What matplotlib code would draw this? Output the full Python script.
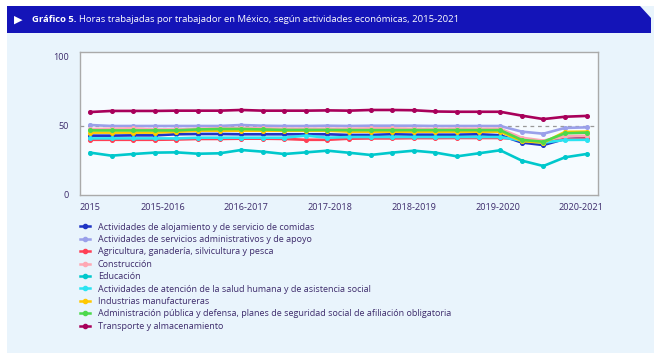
import matplotlib
matplotlib.use("Agg")
import matplotlib.pyplot as plt
from matplotlib.patches import Polygon, Rectangle

plt.rcParams['font.family'] = ['Open Sans', 'DejaVu Sans']

tick_labels = ['2015', '2015-2016', '2016-2017', '2017-2018', '2018-2019', '2019-2020', '2020-2021']
tick_pos = [0, 3.36, 7.24, 11.11, 15.0, 18.88, 22.76]

alojamiento = [43, 43, 43.2, 43.2, 44, 44.2, 44.2, 44, 44, 44, 44, 44,
               43.5, 43.5, 44, 43.7, 43.7, 43.7, 44, 43.3, 38, 36.2, 40.6, 41.5]
servicios = [50.7, 50, 50, 50, 50, 50, 50, 50.7, 50.2, 50, 50, 50.2,
             50, 50.2, 50.2, 50.2, 50, 50, 50, 50, 45.9, 44.4, 48.6, 49]
agricultura = [40, 40, 40, 40, 40.2, 40.6, 40.6, 40.8, 40.8, 40.6, 40, 40,
               40.8, 41, 41, 41.2, 41.2, 41.3, 41.3, 41.3, 40.5, 38.6, 40.4, 41]
construccion = [47.8, 48, 48.3, 47.5, 47.5, 48, 48.3, 48.5, 48.3, 48, 48, 48,
                48, 48.3, 48.3, 48, 47.8, 48, 48, 48, 41.5, 39.4, 42.5, 43]
educacion = [30.7, 28.5, 29.7, 30.7, 30.9, 29.9, 30.2, 32.6, 31.4, 29.7, 30.9, 32.1,
             30.6, 29, 30.7, 32.1, 30.7, 28, 30.2, 32.4, 24.9, 21, 27.3, 29.7]
salud = [41, 41, 41, 41, 41, 41.5, 41.5, 41.5, 41.5, 41.5, 43, 41.5,
         42, 42, 42, 42, 42, 42, 42, 42, 39.4, 37.9, 39.9, 40]
manufactura = [45.2, 45.2, 45.2, 45.2, 45.8, 46.6, 46.6, 46.6, 46.6, 46.6, 46.6, 46.6,
               45.9, 45.9, 45.9, 45.9, 45.9, 45.9, 45.9, 45.9, 39.1, 37.9, 45.7, 45.9]
administracion = [46.8, 46.8, 46.8, 46.8, 46.8, 47.5, 47.8, 47.8, 47.5, 47.1, 47.1, 47.1,
                  47, 47, 47, 47, 47, 47, 47, 47, 39.9, 38.6, 44.7, 45.2]
transporte = [60.1, 60.9, 60.9, 60.9, 61.1, 61.1, 61.1, 61.6, 61.1, 61.1, 61.1, 61.3,
              61.1, 61.6, 61.6, 61.4, 60.5, 60.3, 60.3, 60.3, 57.5, 55, 56.7, 57.3]

series = [
    ('Actividades de alojamiento y de servicio de comidas', alojamiento, '#1f35c4'),
    ('Actividades de servicios administrativos y de apoyo', servicios, '#9aa0ea'),
    ('Agricultura, ganadería, silvicultura y pesca', agricultura, '#ff4055'),
    ('Construcción', construccion, '#ffa8b4'),
    ('Educación', educacion, '#00c8cc'),
    ('Actividades de atención de la salud humana y de asistencia social', salud, '#2ae4f2'),
    ('Industrias manufactureras', manufactura, '#ffc800'),
    ('Administración pública y defensa, planes de seguridad social de afiliación obligatoria',
     administracion, '#4cd94c'),
    ('Transporte y almacenamiento', transporte, '#a8005a'),
]

W, H = 654, 353
fig = plt.figure(figsize=(W / 100, H / 100), dpi=100, facecolor='white')

def fx(x):
    return x / W

def fy(y):
    return 1 - y / H

# fondo y barra del título
fig.patches.append(Rectangle((fx(7), 0), 1 - fx(7), fy(6), transform=fig.transFigure,
                             facecolor='#e9f4fc', edgecolor='none', zorder=-2))
bar = [(fx(7), fy(6)), (fx(640), fy(6)), (fx(651), fy(18)), (fx(651), fy(33)), (fx(7), fy(33))]
fig.patches.append(Polygon(bar, closed=True, transform=fig.transFigure,
                           facecolor='#1414b8', edgecolor='none', zorder=-1))
fig.text(fx(14), fy(20), '▶', color='white', fontsize=8, family='DejaVu Sans',
         va='center', ha='left')
t = fig.text(fx(32), fy(20), 'Gráfico 5.', color='white', fontsize=6.8,
             fontweight='bold', va='center', ha='left')
fig.canvas.draw()
bb = t.get_window_extent()
fig.text(bb.x1 / W + fx(3), fy(20),
         'Horas trabajadas por trabajador en México, según actividades económicas, 2015-2021',
         color='white', fontsize=6.8, va='center', ha='left')

ax = fig.add_axes([fx(80), fy(195), fx(598) - fx(80), fy(52) - fy(195)])
ax.set_zorder(2)
ax.set_facecolor('#f6fbff')
x = list(range(len(transporte)))
for label, vals, col in series:
    ax.plot(x, vals, color=col, lw=1.9, marker='o', markersize=2.6, label=label,
            solid_joinstyle='round')
ax.axhline(50, color='#999999', lw=0.9, ls=(0, (3, 3)), zorder=0.5)

ax.set_xlim(-0.463, 23.53)
ax.set_ylim(0, 103.6)
ax.set_yticks([0, 50, 100])
ax.set_xticks(tick_pos)
ax.set_xticklabels(tick_labels)
ax.tick_params(length=0, labelsize=6.6, labelcolor='#3d2b6b')
ax.tick_params(axis='y', pad=8)
ax.tick_params(axis='x', pad=6)
for s in ax.spines.values():
    s.set_color('#aaaaaa')
    s.set_linewidth(1)

leg = fig.legend(loc='upper left', bbox_to_anchor=(fx(80), fy(222.5)), frameon=False,
                 fontsize=6.45, handlelength=1.1, handletextpad=0.9, labelspacing=0.38,
                 borderpad=0, borderaxespad=0)
for txt in leg.get_texts():
    txt.set_color('#3d2b6b')
for h in leg.legend_handles:
    h.set_linewidth(1.8)
    h.set_markersize(3)

fig.savefig('out.png', dpi=100, facecolor='white')
